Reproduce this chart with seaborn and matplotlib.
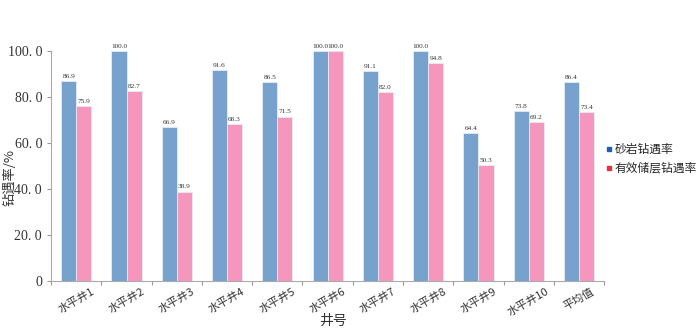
import numpy as np
import pandas as pd
import seaborn as sns
import matplotlib
matplotlib.use('Agg')
import matplotlib.pyplot as plt
from matplotlib.lines import Line2D

wells = ['水平井1', '水平井2', '水平井3', '水平井4', '水平井5', '水平井6',
         '水平井7', '水平井8', '水平井9', '水平井10', '平均值']
sand_rate = [86.9, 100.0, 66.9, 91.6, 86.5, 100.0, 91.1, 100.0, 64.4, 73.8, 86.4]
reservoir_rate = [75.9, 82.7, 38.9, 68.3, 71.5, 100.0, 82.0, 94.8, 50.3, 69.2, 73.4]
series_names = ['砂岩钻遇率', '有效储层钻遇率']
y_ticks = [0, 20, 40, 60, 80, 100]
y_tick_labels = ['0', '20. 0', '40. 0', '60. 0', '80. 0', '100. 0']

df = pd.DataFrame({'well': wells * 2,
                   'rate': sand_rate + reservoir_rate,
                   'series': [series_names[0]] * len(wells) + [series_names[1]] * len(wells)})

sns.set_style("white")
plt.rcParams['font.family'] = ['Noto Sans CJK SC', 'DejaVu Sans']

fig = plt.figure(figsize=(7, 3.31), dpi=100)
ax = fig.add_axes([0.073, 0.151, 0.79, 0.695])
sns.barplot(data=df, x='well', y='rate', hue='series', order=wells, hue_order=series_names,
            palette=['#76A2CD', '#F597BD'], saturation=1, width=0.6, edgecolor='#e4ecf6',
            linewidth=0.6, ax=ax, legend=False)

# value labels
for container in ax.containers:
    labels = ['%.1f' % v for v in container.datavalues]
    ax.bar_label(container, labels=labels, padding=1.5, fontsize=5.2, family='Liberation Serif',
                 color='#333333')

ax.set_ylim(0, 100)
ax.set_xlim(-0.5, len(wells) - 0.5)
ax.set_yticks(y_ticks)
ax.set_yticklabels(y_tick_labels, family='Liberation Serif', fontsize=10, color='#333333')
ax.set_xticks(range(len(wells)))
ax.set_xticklabels(wells, rotation=30, fontsize=8, color='#333333', ha='center')
ax.xaxis.set_minor_locator(matplotlib.ticker.FixedLocator(np.arange(-0.5, len(wells), 1)))
ax.tick_params(axis='x', which='major', length=0, pad=4)
ax.tick_params(axis='x', which='minor', bottom=True, length=3, color='#999999', width=0.8)
ax.tick_params(axis='y', left=True, length=3, color='#999999', width=0.8)

for side in ['top', 'right']:
    ax.spines[side].set_visible(False)
for side in ['left', 'bottom']:
    ax.spines[side].set_color('#aaaaaa')
    ax.spines[side].set_linewidth(0.8)

ax.set_xlabel('井号', fontsize=10, color='#333333')
ax.xaxis.set_label_coords(0.51, -0.142)
ax.set_ylabel('钻遇率/%', fontsize=9.5, color='#333333')
ax.yaxis.set_label_coords(-0.062, 0.45)

# legend
handles = [Line2D([], [], marker='s', linestyle='', markersize=3.5, color='#1f5fb0'),
           Line2D([], [], marker='s', linestyle='', markersize=3.5, color='#e83040')]
fig.legend(handles, series_names, loc='center left', bbox_to_anchor=(0.856, 0.52), frameon=False,
           fontsize=8.5, handletextpad=0.1, labelspacing=0.5, handlelength=0.8, borderaxespad=0)

fig.savefig('out.png', dpi=100)
